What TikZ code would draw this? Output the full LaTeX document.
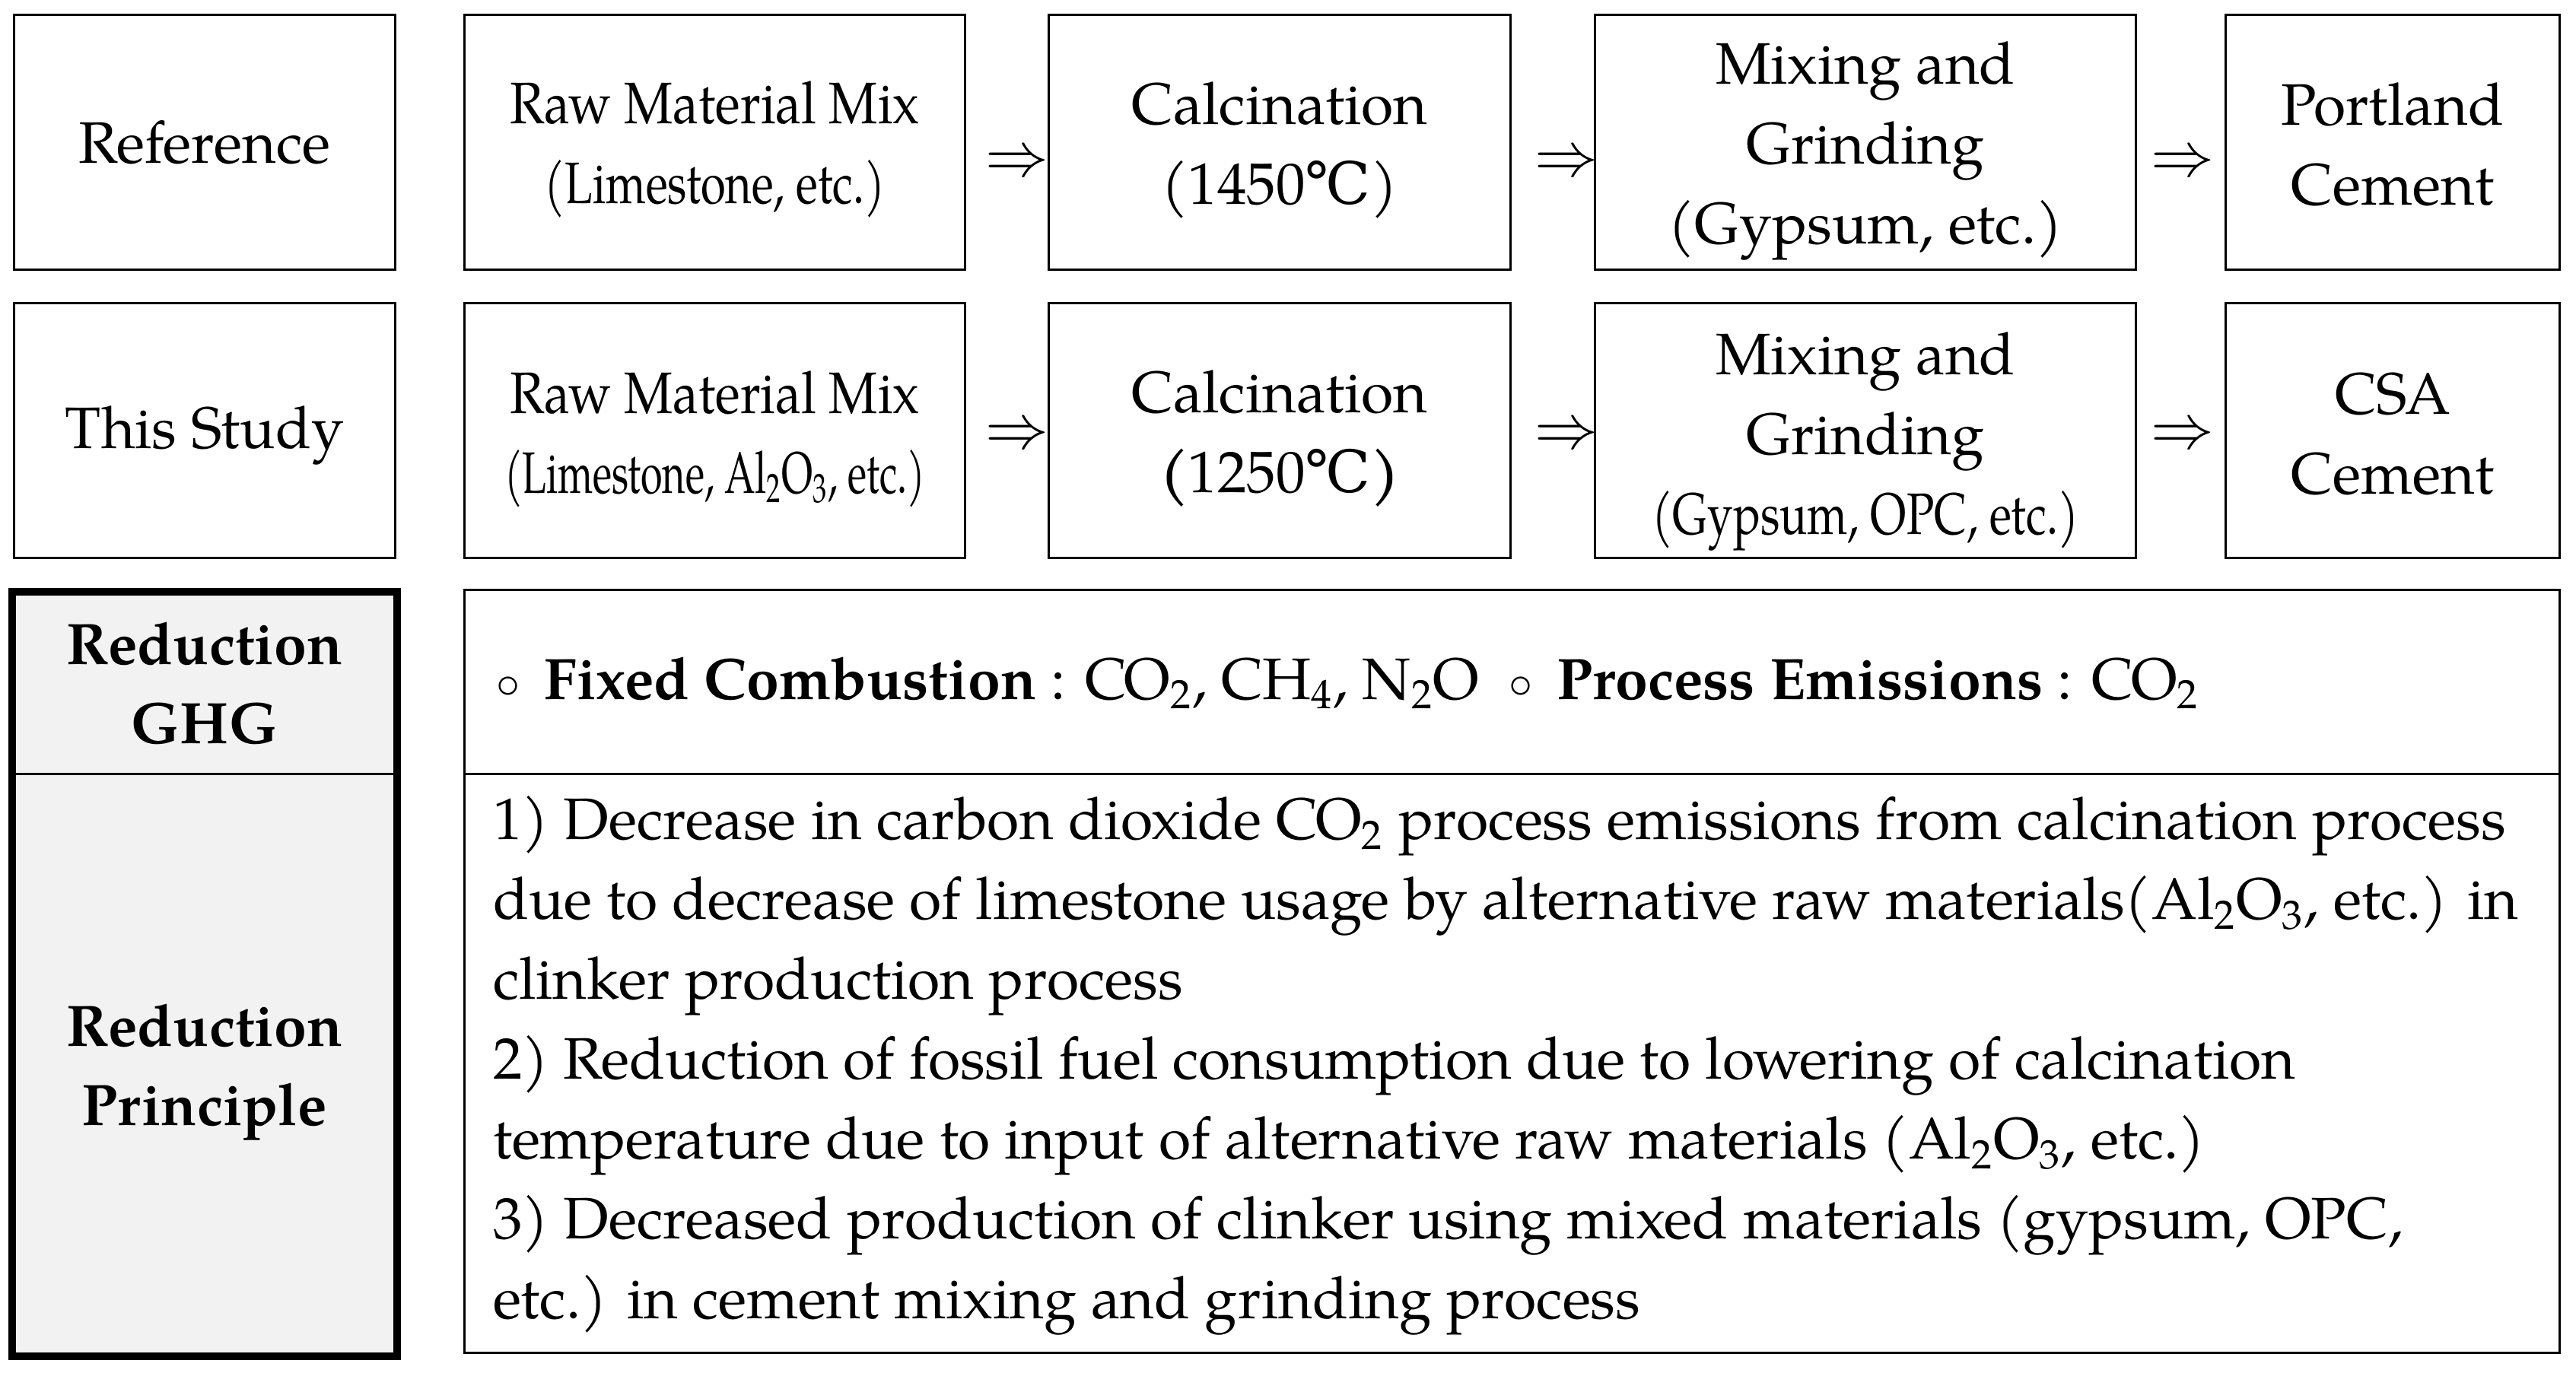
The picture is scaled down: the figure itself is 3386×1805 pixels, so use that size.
\documentclass[tikz,border=0pt]{standalone}
\usepackage{fontspec}
\setmainfont{TeX Gyre Pagella}
\newfontfamily\degfam{DejaVu Serif}
\usetikzlibrary{calc}
\definecolor{cellgray}{HTML}{F2F2F2}
\newcommand\sbs[1]{\textsubscript{#1}}
\newcommand\fitw[2]{\resizebox{#1}{\height}{#2}}
\newcommand\degc{{\degfam ℃}}
\newcommand\smcirc{\raisebox{0.05ex}{\scalebox{0.75}{$\circ$}}}
\begin{document}
\begin{tikzpicture}[x=0.25pt,y=-0.25pt,
  every node/.style={font=\fontsize{19.25}{26.25}\selectfont, inner sep=0pt, outer sep=0pt},
  box/.style={draw, line width=0.75pt, minimum height=83.75pt},
  txt/.style={align=center},
  cell/.style={draw, line width=0.75pt, fill=cellgray},
  wcell/.style={draw, line width=0.75pt},
  lbl/.style={font=\fontsize{19.25}{26}\selectfont\bfseries, align=center},
  arr/.style={font=\fontsize{19.25}{26.25}\selectfont}
]
\useasboundingbox (0,0) rectangle (3386,1805);
% row 1 boxes
\node[box, minimum width=125.25pt] (refl) at (269,187.5) {};
\node[box, minimum width=164.5pt] (raw1) at (939.5,187.5) {};
\node[box, minimum width=151.75pt] (cal1) at (1682,187.5) {};
\node[box, minimum width=177.75pt] (mix1) at (2452,187.5) {};
\node[box, minimum width=109.75pt] (pc) at (3145,187.5) {};
% row 1 texts
\node[txt] (refl-t) at (refl) {Reference};
\node[txt] (raw1-t) at ($(raw1)+(0,9)$) {\fitw{134.5pt}{Raw Material Mix}\\ \fitw{112pt}{(Limestone, etc.)}};
\node[txt] (cal1-t) at ($(cal1)+(0,10)$) {Calcination\\(1450\degc)};
\node[txt] (mix1-t) at ($(mix1)+(0,11)$) {Mixing and\\Grinding\\(Gypsum, etc.)};
\node[txt] (pc-t) at ($(pc)+(0,2)$) {Portland\\Cement};
% row 2 boxes
\node[box, minimum width=125.25pt] (studyl) at (269,566.5) {};
\node[box, minimum width=164.5pt] (raw2) at (939.5,566.5) {};
\node[box, minimum width=151.75pt] (cal2) at (1682,566.5) {};
\node[box, minimum width=177.75pt] (mix2) at (2452,566.5) {};
\node[box, minimum width=109.75pt] (csa) at (3145,566.5) {};
% row 2 texts
\node[txt] (studyl-t) at ($(studyl)+(0,6)$) {This Study};
\node[txt] (raw2-t) at ($(raw2)+(0,11)$) {\fitw{134.5pt}{Raw Material Mix}\\ \fitw{138.25pt}{(Limestone, Al\sbs{2}O\sbs{3}, etc.)}};
\node[txt] (cal2-t) at ($(cal2)+(0,10)$) {Calcination\\\textbf{(}1250\degc\textbf{)}};
\node[txt] (mix2-t) at ($(mix2)+(0,14)$) {Mixing and\\Grinding\\\fitw{140.25pt}{(Gypsum, OPC, etc.)}};
\node[txt] (csa-t) at ($(csa)+(0,4)$) {CSA\\Cement};
% arrows
\node[arr] (a11) at ($(raw1.east)!0.5!(cal1.west)+(13,29)$) {$\Rightarrow$};
\node[arr] (a12) at ($(cal1.east)!0.5!(mix1.west)+(18,29)$) {$\Rightarrow$};
\node[arr] (a13) at ($(mix1.east)!0.5!(pc.west)+(2,29)$) {$\Rightarrow$};
\node[arr] (a21) at ($(raw2.east)!0.5!(cal2.west)+(13,8)$) {$\Rightarrow$};
\node[arr] (a22) at ($(cal2.east)!0.5!(mix2.west)+(18,8)$) {$\Rightarrow$};
\node[arr] (a23) at ($(mix2.east)!0.5!(csa.west)+(2,8)$) {$\Rightarrow$};
% bottom left
\node[cell, minimum width=126.5pt, minimum height=60pt] (ghgl) at (269,898) {};
\node[cell, minimum width=126.5pt, minimum height=191.25pt] (prinl) at (269,1400.5) {};
\draw[line width=2.5pt] (ghgl.north west) rectangle (prinl.south east);
\node[lbl] (ghglt) at (ghgl) {Reduction\\GHG};
\node[lbl] (prinlt) at ($(prinl)+(0,9)$) {Reduction\\Principle};
% bottom right
\node[wcell, minimum width=688.5pt, minimum height=60.625pt] (ghgr) at (1987.5,896.75) {};
\node[wcell, minimum width=688.5pt, minimum height=190.125pt] (prinr) at (1987.5,1398.25) {};
\node[anchor=west, align=left] (ghgtxt) at (652,898) {\smcirc\ \,\textbf{Fixed Combustion} : CO\sbs{2}, CH\sbs{4}, N\sbs{2}O\ \ \smcirc\ \,\textbf{Process Emissions} : CO\sbs{2}};
\node[anchor=west, align=left] (prtxt) at (648,1401) {1) Decrease in carbon dioxide CO\sbs{2} process emissions from calcination process\\
due to decrease of limestone usage by alternative raw materials(Al\sbs{2}O\sbs{3}, etc.) in\\
clinker production process\\
2) Reduction of fossil fuel consumption due to lowering of calcination\\
temperature due to input of alternative raw materials (Al\sbs{2}O\sbs{3}, etc.)\\
3) Decreased production of clinker using mixed materials (gypsum, OPC,\\
etc.) in cement mixing and grinding process};
\end{tikzpicture}
\end{document}
